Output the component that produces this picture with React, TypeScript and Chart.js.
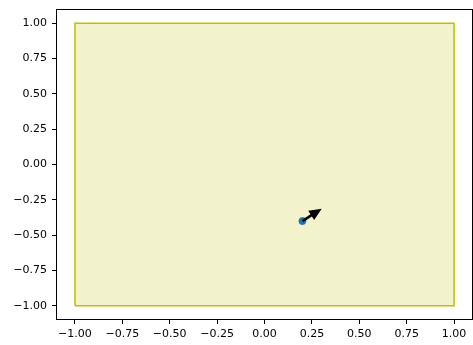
import React, { useEffect, useRef } from "react";
import { Chart, registerables } from "chart.js";

Chart.register(...registerables);

const rectX = [-1, 1, 1, -1, -1];
const rectY = [-1, -1, 1, 1, -1];
const pointX = [0.2];
const pointY = [-0.4];
const arrowStart = [0.2, -0.4];
const arrowEnd = [0.302, -0.313];
const tickValues = [-1, -0.75, -0.5, -0.25, 0, 0.25, 0.5, 0.75, 1];

const fmt = (v: number) => v.toFixed(2).replace("-", "\u2212");
const FONT = { family: "'DejaVu Sans', sans-serif", size: 11 };

const framePlugin = {
  id: "frame",
  afterDatasetsDraw(chart: any) {
    const { ctx, chartArea, scales } = chart;
    const xs = scales.x;
    const ys = scales.y;
    const x0 = xs.getPixelForValue(arrowStart[0]);
    const y0 = ys.getPixelForValue(arrowStart[1]);
    const x1 = xs.getPixelForValue(arrowEnd[0]);
    const y1 = ys.getPixelForValue(arrowEnd[1]);
    const ang = Math.atan2(y1 - y0, x1 - x0);
    const headLen = 12.5;
    const headW = 5.5;
    const shaftW = 1.3;
    const bx = x1 - headLen * Math.cos(ang);
    const by = y1 - headLen * Math.sin(ang);
    const nx = -Math.sin(ang);
    const ny = Math.cos(ang);
    ctx.save();
    ctx.fillStyle = "#000";
    ctx.beginPath();
    ctx.moveTo(x0 + nx * shaftW, y0 + ny * shaftW);
    ctx.lineTo(bx + nx * shaftW, by + ny * shaftW);
    ctx.lineTo(bx + nx * headW, by + ny * headW);
    ctx.lineTo(x1, y1);
    ctx.lineTo(bx - nx * headW, by - ny * headW);
    ctx.lineTo(bx - nx * shaftW, by - ny * shaftW);
    ctx.lineTo(x0 - nx * shaftW, y0 - ny * shaftW);
    ctx.closePath();
    ctx.fill();
    ctx.strokeStyle = "#000";
    ctx.lineWidth = 1;
    const l = Math.round(chartArea.left) + 0.5;
    const t = Math.round(chartArea.top) + 0.5;
    const r = Math.round(chartArea.right) - 0.5;
    const b = Math.round(chartArea.bottom) - 0.5;
    ctx.strokeRect(l, t, r - l, b - t);
    ctx.restore();
  },
};

export default function App() {
  const ref = useRef<HTMLCanvasElement>(null);
  useEffect(() => {
    document.body.style.margin = "0";
    const chart = new Chart(ref.current!, {
      type: "scatter",
      data: {
        datasets: [
          {
            type: "line",
            data: rectX.map((x, i) => ({ x, y: rectY[i] })),
            borderColor: "#bfbf00",
            backgroundColor: "rgba(191,191,0,0.2)",
            borderWidth: 1.5,
            fill: "shape",
            showLine: true,
            pointRadius: 0,
            pointHoverRadius: 0,
            tension: 0,
            order: 2,
          } as any,
          {
            data: pointX.map((x, i) => ({ x, y: pointY[i] })),
            backgroundColor: "#1f77b4",
            borderColor: "#1f77b4",
            pointRadius: 3.5,
            order: 1,
          },
        ],
      },
      options: {
        animation: false,
        responsive: false,
        maintainAspectRatio: false,
        layout: { autoPadding: false, padding: { top: 9, right: 0, left: 0, bottom: 0 } },
        plugins: { legend: { display: false }, tooltip: { enabled: false } },
        scales: {
          x: {
            type: "linear",
            min: -1.1,
            max: 1.1,
            afterBuildTicks: (s: any) => {
              s.ticks = tickValues.map((v) => ({ value: v }));
            },
            afterFit: (s: any) => {
              s.height = 25;
              s.paddingLeft = 0;
              s.paddingRight = 0;
            },
            grid: {
              drawOnChartArea: false,
              drawTicks: true,
              tickLength: 4,
              color: "#000",
            },
            border: { display: false },
            ticks: {
              color: "#000",
              font: FONT,
              padding: 4,
              maxRotation: 0,
              autoSkip: false,
              callback: (v: any) => fmt(Number(v)),
            },
          },
          y: {
            type: "linear",
            min: -1.1,
            max: 1.1,
            afterBuildTicks: (s: any) => {
              s.ticks = tickValues.map((v) => ({ value: v }));
            },
            afterFit: (s: any) => {
              s.width = 56;
              s.paddingTop = 0;
              s.paddingBottom = 0;
            },
            grid: {
              drawOnChartArea: false,
              drawTicks: true,
              tickLength: 4,
              color: "#000",
            },
            border: { display: false },
            ticks: {
              color: "#000",
              font: FONT,
              padding: 5,
              autoSkip: false,
              callback: (v: any) => fmt(Number(v)),
            },
          },
        },
      },
      plugins: [framePlugin],
    });
    let alive = true;
    if ((document as any).fonts && (document as any).fonts.load) {
      (document as any).fonts
        .load("11px 'DejaVu Sans'")
        .then(() => {
          if (alive) chart.update();
        })
        .catch(() => {});
    }
    return () => {
      alive = false;
      chart.destroy();
    };
  }, []);
  return <canvas ref={ref} width={473} height={345} style={{ display: "block" }} />;
}
